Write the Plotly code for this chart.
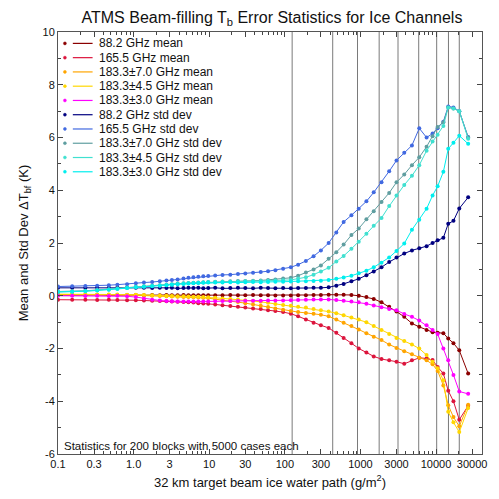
import plotly.graph_objects as go

# Ice water path of the bin centres (g/m^2)
iwp = [0.1, 0.154, 0.23, 0.33, 0.47, 0.61, 0.82, 1.07, 1.37, 1.76, 2.22, 2.72, 3.21, 3.82,
       4.57, 5.31, 6.18, 7.18, 8.35, 9.71, 12, 15, 19, 24, 30, 38, 48, 60, 75, 95,
       120, 150, 190, 240, 300, 380, 480, 600, 760, 950, 1200, 1500, 1900, 2400, 3000,
       3800, 4800, 6000, 7500, 9000, 10500, 12500, 14500, 17000, 20300, 26600]

mean_882 = [0.02, 0.03, 0.02, 0.03, 0.02, 0.03, 0.02, 0.03, 0.02, 0.03, 0.02, 0.03, 0.02, 0.02,
            0.03, 0.02, 0.02, 0.02, 0.02, 0.02, 0.02, 0.02, 0.03, 0.02, 0.02, 0.03, 0.02, 0.02,
            0.01, 0.01, 0.01, 0.02, 0.02, 0.03, 0.03, 0.04, 0.04, 0.04, 0.03, 0.0, -0.05, -0.12,
            -0.25, -0.42, -0.6, -0.8, -1.05, -1.18, -1.3, -1.38, -1.4, -1.42, -1.62, -1.8, -2.07, -2.95]
mean_1655 = [-0.15, -0.15, -0.15, -0.16, -0.15, -0.16, -0.17, -0.17, -0.18, -0.19, -0.2, -0.21,
             -0.22, -0.23, -0.24, -0.25, -0.26, -0.28, -0.29, -0.3, -0.33, -0.36, -0.39, -0.42,
             -0.45, -0.48, -0.5, -0.55, -0.58, -0.62, -0.68, -0.78, -0.9, -1.02, -1.12, -1.22,
             -1.4, -1.6, -1.8, -2.0, -2.15, -2.3, -2.4, -2.45, -2.5, -2.58, -2.45, -2.35, -2.38,
             -2.44, -2.7, -2.95, -3.6, -4.0, -4.7, -4.17]
mean_1833_70 = [0.05, 0.05, 0.05, 0.04, 0.04, 0.03, 0.03, 0.02, 0.01, 0.0, -0.01, -0.02, -0.03,
                -0.04, -0.05, -0.05, -0.06, -0.07, -0.08, -0.09, -0.13, -0.16, -0.2, -0.24, -0.28,
                -0.33, -0.38, -0.43, -0.48, -0.53, -0.58, -0.62, -0.65, -0.68, -0.72, -0.78, -0.9,
                -1.02, -1.15, -1.28, -1.42, -1.55, -1.68, -1.85, -1.98, -2.1, -2.22, -2.35, -2.45,
                -2.6, -2.85, -3.4, -4.15, -4.6, -4.95, -4.13]
mean_1833_45 = [0.06, 0.06, 0.06, 0.05, 0.05, 0.05, 0.04, 0.04, 0.03, 0.02, 0.01, 0.0, -0.01,
                -0.02, -0.02, -0.03, -0.04, -0.04, -0.05, -0.06, -0.08, -0.1, -0.12, -0.14, -0.17,
                -0.2, -0.23, -0.27, -0.31, -0.35, -0.38, -0.42, -0.45, -0.5, -0.55, -0.6, -0.66,
                -0.74, -0.82, -0.9, -1.0, -1.15, -1.3, -1.45, -1.6, -1.72, -1.85, -2.0, -2.25,
                -2.5, -2.75, -3.2, -4.4, -4.8, -5.17, -4.26]
mean_1833_30 = [0.0, 0.0, -0.01, 0.0, -0.01, 0.0, -0.02, -0.05, -0.1, -0.15, -0.18, -0.2, -0.21,
                -0.22, -0.22, -0.22, -0.22, -0.22, -0.22, -0.22, -0.21, -0.2, -0.2, -0.2, -0.19,
                -0.19, -0.19, -0.18, -0.18, -0.18, -0.17, -0.16, -0.15, -0.14, -0.14, -0.14, -0.16,
                -0.19, -0.22, -0.25, -0.3, -0.37, -0.44, -0.5, -0.55, -0.69, -0.8, -0.94, -1.12,
                -1.3, -1.45, -2.0, -2.45, -3.0, -3.63, -3.72]
std_882 = [0.3, 0.3, 0.3, 0.31, 0.3, 0.31, 0.3, 0.3, 0.3, 0.29, 0.3, 0.29, 0.3, 0.28, 0.29, 0.3,
           0.29, 0.3, 0.28, 0.29, 0.3, 0.28, 0.29, 0.3, 0.29, 0.28, 0.3, 0.29, 0.28, 0.29, 0.28,
           0.29, 0.29, 0.3, 0.3, 0.32, 0.38, 0.45, 0.55, 0.64, 0.78, 0.92, 1.08, 1.28, 1.45, 1.6,
           1.72, 1.8, 1.88, 2.0, 2.1, 2.2, 2.73, 2.84, 3.31, 3.73]
std_1655 = [0.35, 0.36, 0.37, 0.38, 0.4, 0.42, 0.44, 0.47, 0.5, 0.52, 0.55, 0.58, 0.6, 0.62,
            0.65, 0.68, 0.7, 0.72, 0.74, 0.75, 0.77, 0.79, 0.8, 0.82, 0.84, 0.87, 0.9, 0.93,
            0.97, 1.02, 1.08, 1.18, 1.32, 1.5, 1.72, 2.0, 2.4, 2.8, 3.05, 3.3, 3.58, 3.92, 4.3,
            4.72, 5.13, 5.42, 5.7, 6.35, 6.0, 6.15, 6.35, 6.6, 7.18, 7.14, 7.0, 6.02]
std_1833_70 = [0.16, 0.17, 0.19, 0.22, 0.25, 0.28, 0.31, 0.34, 0.36, 0.38, 0.4, 0.42, 0.44, 0.46,
               0.47, 0.48, 0.49, 0.5, 0.51, 0.52, 0.53, 0.54, 0.55, 0.56, 0.56, 0.57, 0.58, 0.6,
               0.62, 0.65, 0.68, 0.76, 0.88, 1.0, 1.15, 1.4, 1.65, 1.94, 2.3, 2.55, 2.9, 3.2,
               3.55, 3.9, 4.3, 4.6, 4.95, 5.25, 5.65, 6.05, 6.4, 6.58, 7.14, 7.1, 7.0, 6.0]
std_1833_45 = [0.15, 0.16, 0.18, 0.21, 0.24, 0.27, 0.3, 0.33, 0.35, 0.37, 0.39, 0.41, 0.43, 0.45,
               0.46, 0.47, 0.48, 0.49, 0.5, 0.51, 0.52, 0.53, 0.53, 0.54, 0.55, 0.55, 0.56, 0.57,
               0.58, 0.59, 0.6, 0.65, 0.7, 0.8, 0.92, 1.06, 1.3, 1.51, 1.78, 2.05, 2.35, 2.65,
               2.95, 3.4, 3.8, 4.2, 4.55, 4.95, 5.5, 5.85, 6.1, 6.44, 7.14, 7.1, 7.0, 5.95]
std_1833_30 = [0.14, 0.15, 0.17, 0.2, 0.23, 0.26, 0.29, 0.32, 0.34, 0.36, 0.38, 0.4, 0.42, 0.44,
               0.45, 0.46, 0.47, 0.48, 0.49, 0.5, 0.5, 0.5, 0.51, 0.5, 0.51, 0.52, 0.51, 0.52,
               0.53, 0.53, 0.54, 0.55, 0.55, 0.56, 0.57, 0.6, 0.64, 0.69, 0.76, 0.85, 0.95, 1.08,
               1.25, 1.45, 1.7, 1.98, 2.5, 2.88, 3.3, 3.8, 4.15, 4.7, 5.57, 5.8, 6.07, 5.76]

series_names = ["88.2 GHz mean", "165.5 GHz mean", "183.3\u00b17.0 GHz mean",
                "183.3\u00b14.5 GHz mean", "183.3\u00b13.0 GHz mean", "88.2 GHz std dev",
                "165.5 GHz std dev", "183.3\u00b17.0 GHz std dev", "183.3\u00b14.5 GHz std dev",
                "183.3\u00b13.0 GHz std dev"]
series_values = [mean_882, mean_1655, mean_1833_70, mean_1833_45, mean_1833_30,
                 std_882, std_1655, std_1833_70, std_1833_45, std_1833_30]
series_colors = ["#8B0000", "#DC143C", "#FFA500", "#FFD700", "#FF00FF",
                 "#000080", "#4169E1", "#5F9EA0", "#40E0D0", "#00EEEE"]

# Bin edges of the sparse high-IWP blocks
block_edges = [125, 430, 915, 1770, 3140, 5900, 10200, 14600, 20300]

x_tickvals = [0.1, 0.3, 1, 3, 10, 30, 100, 300, 1000, 3000, 10000, 30000]
x_ticktext = ["0.1", "0.3", "1.0", "3", "10", "30", "100", "300", "1000", "3000", "10000", "30000"]
y_tickvals = [-6, -4, -2, 0, 2, 4, 6, 8, 10]
y_ticktext = ["-6", "-4", "-2", "0", "2", "4", "6", "8", "10"]

FONT = "Liberation Sans, Arial, Helvetica, sans-serif"
W, H = 499, 499
ML, MR, MT, MB = 58, 12, 32, 41
PW, PH = W - ML - MR, H - MT - MB


def px_to_paper(px, py):
    return (px - ML) / PW, 1 - (py - MT) / PH


fig = go.Figure()
for name, vals, col in zip(series_names, series_values, series_colors):
    fig.add_trace(go.Scatter(
        x=iwp, y=vals, name=name, mode="lines+markers",
        line=dict(color=col, width=1),
        marker=dict(color=col, size=4),
        showlegend=False,
    ))

shapes = []
for edge in block_edges:
    shapes.append(dict(type="line", xref="x", yref="paper", x0=edge, x1=edge, y0=0, y1=1,
                       line=dict(color="#7a7a7a", width=1), layer="below"))

# Key drawn inside the upper-left corner of the plot
annotations = []
for i, (name, col) in enumerate(zip(series_names, series_colors)):
    row_y = 43.5 + 14.4 * i
    dx0, dy0 = px_to_paper(63.5, row_y + 1.5)
    dx1, dy1 = px_to_paper(66.5, row_y - 1.5)
    shapes.append(dict(type="circle", xref="paper", yref="paper", x0=dx0, x1=dx1, y0=dy0, y1=dy1,
                       fillcolor=col, line=dict(color=col, width=0.5)))
    lx0, ly = px_to_paper(73, row_y)
    lx1, _ = px_to_paper(93, row_y)
    shapes.append(dict(type="line", xref="paper", yref="paper", x0=lx0, x1=lx1, y0=ly, y1=ly,
                       line=dict(color=col, width=1.2)))
    tx, _ = px_to_paper(97, row_y)
    annotations.append(dict(xref="paper", yref="paper", x=tx, y=ly, text=name, showarrow=False,
                            xanchor="left", yanchor="middle",
                            font=dict(family=FONT, size=12, color="#111")))

nx, ny = px_to_paper(62, 450)
annotations.append(dict(xref="paper", yref="paper", x=nx, y=ny,
                        text="Statistics for 200 blocks with 5000 cases each", showarrow=False,
                        xanchor="left", yanchor="middle",
                        font=dict(family=FONT, size=11.5, color="#111")))

minor_x = [m * 10 ** e for e in range(-1, 5) for m in range(2, 10) if m * 10 ** e < 41000]

fig.update_layout(
    width=W, height=H,
    margin=dict(l=ML, r=MR, t=MT, b=MB),
    paper_bgcolor="white", plot_bgcolor="white",
    font=dict(family=FONT, size=11, color="#111"),
    title=dict(text="ATMS Beam-filling T<sub>b</sub> Error Statistics for Ice Channels",
               x=0.545, xanchor="center", y=1 - 17 / H, yanchor="middle",
               font=dict(family=FONT, size=16, color="#111")),
    xaxis=dict(type="log", range=[-1, 4.608], tickmode="array", tickvals=x_tickvals,
               ticktext=x_ticktext, ticks="inside", ticklen=5, tickcolor="#444",
               showline=True, linecolor="#555", linewidth=1, mirror="allticks",
               showgrid=False, zeroline=False,
               minor=dict(tickmode="array", tickvals=minor_x, ticks="inside", ticklen=3,
                          tickcolor="#444", showgrid=False),
               title=dict(text="32 km target beam ice water path (g/m<sup>2</sup>)",
                          font=dict(family=FONT, size=13), standoff=8),
               tickfont=dict(family=FONT, size=11)),
    yaxis=dict(range=[-6, 10], tickmode="array", tickvals=y_tickvals, ticktext=y_ticktext,
               ticks="inside", ticklen=5, tickcolor="#444",
               showline=True, linecolor="#555", linewidth=1, mirror="allticks",
               showgrid=False, zeroline=False,
               minor=dict(dtick=1, ticks="inside", ticklen=3, tickcolor="#444", showgrid=False),
               title=dict(text="Mean and Std Dev \u0394T<sub>bf</sub> (K)",
                          font=dict(family=FONT, size=13), standoff=10),
               tickfont=dict(family=FONT, size=11)),
    shapes=shapes,
    annotations=annotations,
)

fig.write_html("out.html")
